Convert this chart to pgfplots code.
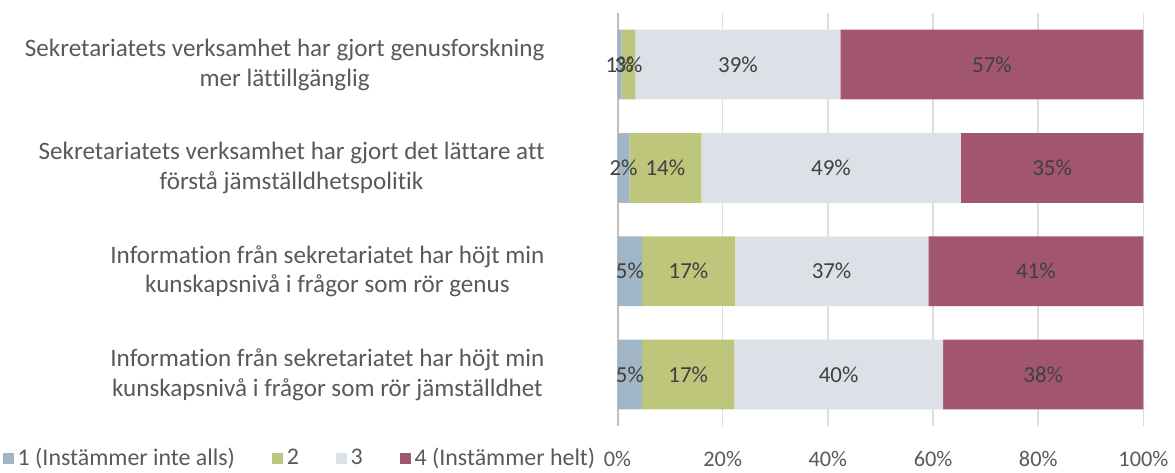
\documentclass[border=0pt]{standalone}
\usepackage{pgfplots}
\pgfplotsset{compat=1.18}
\usepackage{fontspec}
\setmainfont{Carlito}[Ligatures=NoCommon]
\definecolor{c1}{RGB}{160,181,197}
\definecolor{c2}{RGB}{189,198,122}
\definecolor{c3}{RGB}{220,225,232}
\definecolor{c4}{RGB}{161,86,110}
\definecolor{txt}{RGB}{89,89,89}
\definecolor{lbl}{RGB}{64,64,64}
\definecolor{gridc}{RGB}{222,222,222}
\definecolor{axc}{RGB}{191,191,191}
\begin{document}
\begin{tikzpicture}[font=\fontsize{12.6}{15}\selectfont]
\begin{axis}[
  name=ax,
  scale only axis, width=264pt, height=207.5pt,
  xmin=0, xmax=100, ymin=-0.5, ymax=3.5,
  xbar stacked, bar width=35pt,
  axis line style={draw=none},
  major tick length=0pt,
  xtick={0,20,...,100},
  xticklabel={\pgfmathprintnumber{\tick}\%},
  xticklabel style={anchor=base, yshift=-20pt, text=txt, font=\fontsize{11.2}{13}\selectfont},
  xmajorgrids, grid style={gridc, line width=0.75pt},
  extra x ticks={0}, extra x tick labels={}, extra x tick style={grid style={axc, line width=1pt}},
  ytick={0,1,2,3},
  yticklabels={{Information från sekretariatet har höjt min\\kunskapsnivå i frågor som rör jämställdhet},
               {Information från sekretariatet har höjt min\\kunskapsnivå i frågor som rör genus},
               {Sekretariatets verksamhet har gjort det lättare att\\förstå jämställdhetspolitik},
               {Sekretariatets verksamhet har gjort genusforskning\\mer lättillgänglig}},
  yticklabel style={align=center, text=txt, inner sep=0pt, xshift=-36.5pt},
  /pgf/number format/assume math mode=true,
  legend columns=-1,
  legend style={draw=none, fill=none, at={(rel axis cs:-0.034,-0.077)}, anchor=east, inner sep=0pt, text=txt, font=\fontsize{12}{13}\selectfont,
    nodes={inner sep=2pt},
    /tikz/every even column/.append style={column sep=16.5pt}},
  legend image code/.code={\fill[#1] (0pt,-2.75pt) rectangle (5.5pt,2.75pt);},
]
\addplot[fill=c1, draw=none] coordinates {(4.7,0) (4.7,1) (2.3,2) (0.8,3)};
\addplot[fill=c2, draw=none] coordinates {(17.5,0) (17.6,1) (13.6,2) (2.6,3)};
\addplot[fill=c3, draw=none] coordinates {(39.7,0) (36.8,1) (49.4,2) (39.0,3)};
\addplot[fill=c4, draw=none] coordinates {(38.1,0) (40.9,1) (34.7,2) (57.6,3)};
\legend{1 (Instämmer inte alls), 2, 3, 4 (Instämmer helt)}
\coordinate (LL) at (rel axis cs:0,0);
\coordinate (UR) at (rel axis cs:1,1);
\end{axis}
\begin{axis}[
  scale only axis, width=264pt, height=207.5pt,
  xmin=0, xmax=100, ymin=-0.5, ymax=3.5,
  hide axis,
]
\addplot[only marks, mark=none, point meta=explicit symbolic,
  nodes near coords={\pgfplotspointmeta\%},
  nodes near coords style={anchor=center, text=lbl, font=\fontsize{11.5}{13}\selectfont}]
  table[x=x, y=y, meta=lab] {
x y lab
0.4 3 1
2.1 3 3
22.9 3 39
71.2 3 57
1.15 2 2
9.1 2 14
40.6 2 49
82.65 2 35
2.35 1 5
13.5 1 17
40.7 1 37
79.55 1 41
2.35 0 5
13.45 0 17
42.05 0 40
80.95 0 38
};
\end{axis}
\path ([shift={(-310pt,-21.5pt)}]LL) ([shift={(13.5pt,6.5pt)}]UR);
\end{tikzpicture}
\end{document}
